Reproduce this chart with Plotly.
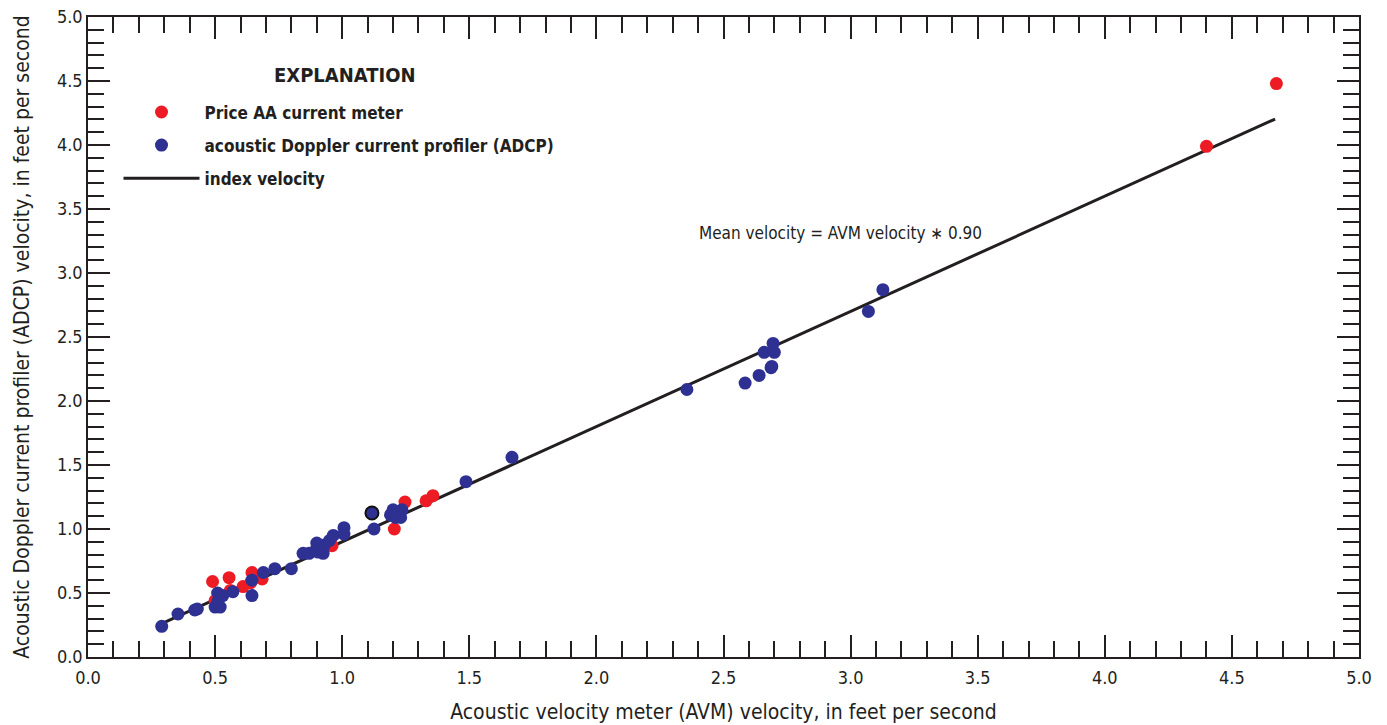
import plotly.graph_objects as go

# ---- data ----
price_x = [0.49, 0.50, 0.555, 0.56, 0.61, 0.64, 0.645, 0.685, 0.96, 1.205, 1.247, 1.33, 1.357, 4.40, 4.675]
price_y = [0.59, 0.44, 0.62, 0.52, 0.55, 0.58, 0.66, 0.61, 0.87, 1.00, 1.21, 1.22, 1.26, 3.99, 4.48]

adcp_x = [0.29, 0.354, 0.42, 0.43, 0.50, 0.52, 0.51, 0.53, 0.51, 0.57, 0.645, 0.645, 0.69, 0.735, 0.80,
          0.846, 0.87, 0.90, 0.90, 0.905, 0.925, 0.93, 0.95, 0.965, 1.007, 1.007, 1.117, 1.125,
          1.19, 1.20, 1.22, 1.235, 1.23, 1.21, 1.487, 1.668, 2.356, 2.585, 2.64, 2.687, 2.69,
          2.66, 2.70, 2.695, 3.07, 3.127]
adcp_y = [0.24, 0.336, 0.367, 0.375, 0.39, 0.39, 0.50, 0.48, 0.43, 0.51, 0.60, 0.48, 0.66, 0.69, 0.69,
          0.81, 0.81, 0.85, 0.89, 0.82, 0.81, 0.875, 0.91, 0.95, 1.01, 0.96, 1.125, 1.00,
          1.11, 1.15, 1.13, 1.15, 1.09, 1.09, 1.37, 1.56, 2.09, 2.14, 2.20, 2.26, 2.27,
          2.38, 2.38, 2.45, 2.70, 2.87]

index_coef = 0.90
index_x = [0.29, 4.67]
index_y = [index_coef * v for v in index_x]

tick_vals = [0.0, 0.5, 1.0, 1.5, 2.0, 2.5, 3.0, 3.5, 4.0, 4.5, 5.0]
tick_text = ["0.0", "0.5", "1.0", "1.5", "2.0", "2.5", "3.0", "3.5", "4.0", "4.5", "5.0"]

RED = "#ed1c24"
BLUE = "#2e3192"
INK = "#231f20"
FONT = "Liberation Sans Narrow, DejaVu Sans Condensed, Arial Narrow, Roboto, sans-serif"

fig = go.Figure()

fig.add_trace(go.Scatter(
    x=index_x, y=index_y, mode="lines", name="index velocity",
    line=dict(color=INK, width=3), legendrank=3, legendgroup="c"))

fig.add_trace(go.Scatter(
    x=price_x, y=price_y, mode="markers", name="Price AA current meter",
    marker=dict(color=RED, size=13, line=dict(width=0)), legendrank=1, legendgroup="a"))

outline = [2 if (abs(a - 1.117) < 1e-9) else 0 for a in adcp_x]
fig.add_trace(go.Scatter(
    x=adcp_x, y=adcp_y, mode="markers", name="acoustic Doppler current profiler (ADCP)",
    marker=dict(color=BLUE, size=13, line=dict(width=outline, color="#111111")),
    legendrank=2, legendgroup="b"))

fig.add_annotation(
    x=2.96, y=3.31, xref="x", yref="y", text="Mean velocity = AVM velocity \u2217 0.90",
    showarrow=False, font=dict(family=FONT, size=17, color=INK))

fig.add_annotation(
    x=0.202, y=0.909, xref="paper", yref="paper", text="<b>EXPLANATION</b>",
    xanchor="center", yanchor="middle",
    showarrow=False, font=dict(family=FONT, size=20, color=INK))

axis_common = dict(
    range=[0, 5], tickvals=tick_vals, ticktext=tick_text,
    ticks="inside", ticklen=22, tickwidth=1.5, tickcolor=INK,
    minor=dict(dtick=0.1, ticks="inside", ticklen=16, tickwidth=1.5, tickcolor=INK),
    showline=True, linecolor=INK, linewidth=1.5, mirror="allticks",
    showgrid=False, zeroline=False, automargin=False,
    ticklabeloverflow="allow",
    tickfont=dict(family=FONT, size=18, color=INK),
)

fig.update_xaxes(**axis_common, ticklabelstandoff=4,
                 title=dict(text="Acoustic velocity meter (AVM) velocity, in feet per second",
                            font=dict(family=FONT, size=21, color=INK), standoff=17))
fig.update_yaxes(**axis_common,
                 title=dict(text="Acoustic Doppler current profiler (ADCP) velocity, in feet per second",
                            font=dict(family=FONT, size=21, color=INK), standoff=22))

fig.update_layout(
    width=1387, height=725,
    margin=dict(l=88, r=28, t=17, b=68),
    plot_bgcolor="white", paper_bgcolor="white",
    showlegend=True,
    legend=dict(
        x=0.024, y=0.879, xanchor="left", yanchor="top",
        font=dict(family=FONT, size=17, color=INK, weight="bold"),
        bgcolor="rgba(0,0,0,0)", tracegroupgap=8, itemwidth=76,
        traceorder="grouped",
    ),
)

fig.write_html("out.html", config={"displayModeBar": False},
               post_script="document.body.style.margin='0';")
